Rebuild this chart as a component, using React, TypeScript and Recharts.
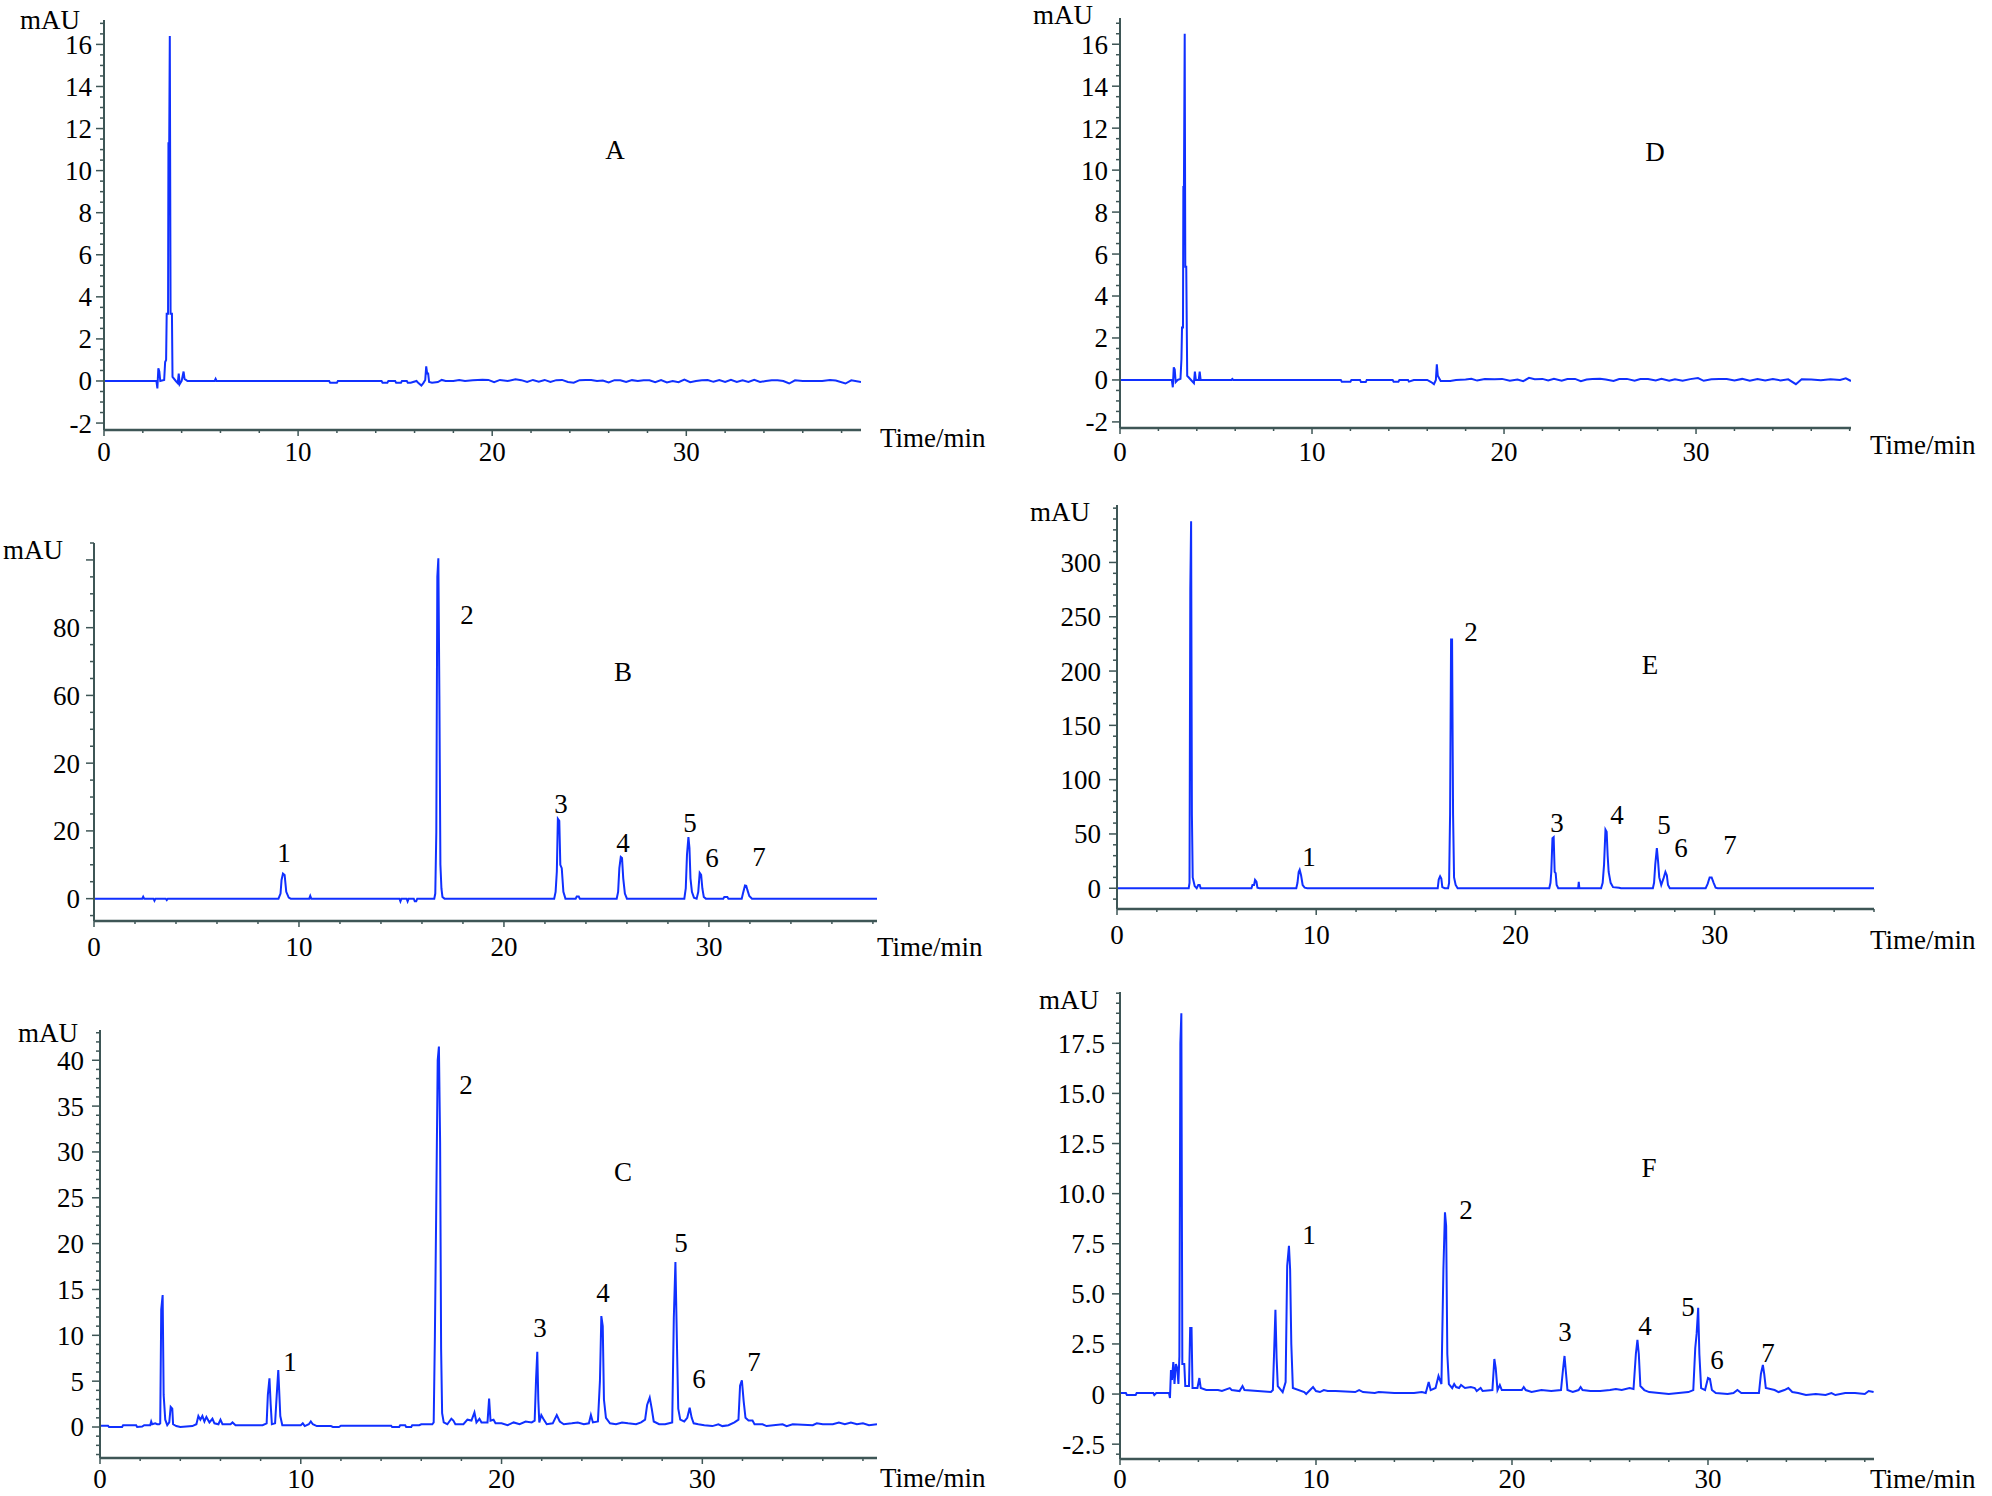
import React from 'react';
import { LineChart, Line, XAxis, YAxis } from 'recharts';

type Pt = [number, number];

// ---------- DATA (time/min, mAU) ----------
const seriesA: Pt[] = [
  [0, 0], [2.7, 0], [2.75, -0.35], [2.8, 0.6], [2.85, 0.45], [2.9, 0], [3.1, 0.05], [3.15, 0.9], [3.2, 1.0],
  [3.23, 3.2], [3.3, 3.2], [3.32, 11.3], [3.36, 11.3], [3.39, 16.4], [3.43, 3.2], [3.5, 3.2], [3.53, 0.2],
  [3.7, 0], [3.8, -0.1], [3.85, 0.35], [3.9, -0.15], [4.0, 0], [4.1, 0.45], [4.15, 0.1], [4.3, 0],
  [5.7, 0], [5.75, 0.1], [5.8, 0], [11.6, 0], [11.65, -0.08], [12.0, -0.08], [12.05, 0], [14.3, 0],
  [14.35, -0.08], [14.6, -0.08], [14.65, 0], [15.0, 0], [15.05, -0.08], [15.3, -0.08], [15.35, 0],
  [15.6, 0], [15.65, -0.08], [15.8, -0.08], [16.1, 0], [16.2, -0.1], [16.35, -0.22], [16.45, -0.1],
  [16.55, 0.05], [16.6, 0.7], [16.65, 0.35], [16.7, 0.35], [16.75, -0.05], [16.9, -0.08], [17.2, -0.05],
  [17.4, 0.05], [17.6, 0], [18.0, 0], [18.3, 0.05], [18.6, 0], [19.0, 0.03], [19.5, 0.06], [19.8, 0.05],
  [20.1, -0.06], [20.4, 0.05], [20.8, 0], [21.2, 0.08], [21.5, 0.04], [21.8, -0.05], [22.1, 0.05],
  [22.4, -0.03], [22.7, 0.05], [23.0, -0.05], [23.3, 0.04], [23.6, 0.05], [23.9, -0.05], [24.2, -0.08],
  [24.5, 0.04], [24.8, 0.05], [25.1, 0.05], [25.4, 0], [25.7, 0.02], [26.0, -0.07], [26.3, 0.04],
  [26.6, 0.03], [26.9, -0.05], [27.2, 0.04], [27.5, 0], [27.8, 0.04], [28.1, 0.03], [28.4, -0.06],
  [28.7, 0.04], [29.0, -0.07], [29.3, 0], [29.6, -0.06], [29.9, 0.07], [30.2, -0.06], [30.5, 0],
  [30.8, 0.04], [31.1, 0.05], [31.4, -0.04], [31.7, 0.04], [32.0, -0.05], [32.3, 0.05], [32.6, -0.05],
  [32.9, 0.03], [33.2, -0.05], [33.5, 0.05], [33.8, -0.05], [34.1, 0], [34.4, 0.04], [34.7, 0.03],
  [35.0, 0], [35.3, -0.12], [35.6, 0.03], [36.0, 0], [36.5, 0], [37.0, 0], [37.4, 0.05], [37.7, 0.02],
  [38.2, -0.12], [38.5, 0.03], [39.0, -0.05],
];

const seriesD: Pt[] = [
  [0, 0], [2.7, 0], [2.75, -0.35], [2.8, 0.6], [2.85, 0.5], [2.9, -0.1], [3.0, 0], [3.15, 0.05], [3.2, 1.0],
  [3.23, 2.5], [3.28, 2.5], [3.3, 9.2], [3.33, 9.2], [3.37, 16.5], [3.4, 5.4], [3.45, 5.4], [3.5, 0.2],
  [3.7, 0], [3.85, -0.15], [3.9, 0.4], [3.95, 0], [4.1, 0], [4.15, 0.4], [4.2, 0], [5.8, 0], [5.85, 0.05],
  [5.9, 0], [11.5, 0], [11.55, -0.08], [12.0, -0.08], [12.05, 0], [12.5, 0], [12.55, -0.1], [12.8, -0.1],
  [12.85, 0], [14.2, 0], [14.25, -0.08], [14.5, -0.08], [14.55, 0], [15.0, 0], [15.05, -0.08], [15.3, 0],
  [16.0, 0], [16.2, -0.1], [16.35, -0.2], [16.45, 0], [16.5, 0.75], [16.55, 0.2], [16.7, -0.05],
  [17.2, -0.05], [17.5, 0], [18.0, 0.02], [18.3, 0.06], [18.6, -0.03], [19.0, 0.05], [19.5, 0.03],
  [19.9, 0.05], [20.3, -0.04], [20.7, 0.02], [21.0, -0.06], [21.3, 0.1], [21.6, 0.03], [22.0, 0.05],
  [22.3, -0.03], [22.6, 0.05], [23.0, -0.04], [23.3, 0.04], [23.7, 0.05], [24.0, -0.06], [24.3, 0.02],
  [24.6, 0.04], [25.0, 0.06], [25.3, 0.02], [25.7, -0.05], [26.0, 0.04], [26.4, 0.05], [26.8, -0.04],
  [27.1, 0.04], [27.5, 0.05], [27.9, -0.03], [28.2, 0.05], [28.6, -0.04], [28.9, 0.03], [29.3, -0.04],
  [29.7, 0.04], [30.1, 0.09], [30.4, -0.04], [30.8, 0.03], [31.2, 0.05], [31.6, 0.04], [32.0, -0.03],
  [32.4, 0.05], [32.8, -0.04], [33.2, 0.04], [33.6, -0.03], [34.0, 0.04], [34.4, -0.02], [34.8, 0.03],
  [35.2, -0.2], [35.5, 0.03], [36.0, 0.02], [36.5, -0.02], [37.0, 0.03], [37.5, 0], [37.8, 0.08], [38.07, -0.05],
];

const seriesB: Pt[] = [
  [0, 0], [2.35, 0], [2.4, 0.6], [2.45, 0], [2.9, 0], [2.95, -0.6], [3.0, 0], [3.5, 0], [3.55, -0.4], [3.6, 0],
  [9.0, 0], [9.1, 1.5], [9.15, 5.5], [9.22, 7.4], [9.3, 7.0], [9.38, 2], [9.5, 0.3], [9.6, 0],
  [10.5, 0], [10.55, 0.8], [10.6, 0], [14.9, 0], [14.95, -0.8], [15.0, 0], [15.25, 0], [15.3, -0.8],
  [15.35, 0], [15.6, 0], [15.65, -0.8], [15.72, -0.8], [15.77, 0], [16.6, 0], [16.65, 1.5], [16.7, 19.5],
  [16.75, 95], [16.8, 100.5], [16.85, 60], [16.9, 10], [16.95, 3], [17.0, 0.5], [17.1, 0],
  [22.45, 0], [22.52, 2], [22.58, 8], [22.63, 23.6], [22.7, 23], [22.75, 10], [22.82, 9], [22.9, 2], [23.0, 0],
  [23.5, 0], [23.55, 0.6], [23.65, 0.6], [23.7, 0], [25.5, 0], [25.57, 2], [25.63, 9], [25.7, 12.3],
  [25.76, 12], [25.82, 6], [25.9, 1.5], [26.0, 0], [28.8, 0], [28.87, 3], [28.93, 13], [29.0, 18.2],
  [29.05, 15], [29.1, 6], [29.17, 2], [29.27, 0.3], [29.4, 0], [29.48, 2], [29.55, 7.6], [29.62, 7],
  [29.68, 3], [29.75, 0.5], [29.85, 0], [30.7, 0], [30.75, 0.5], [30.9, 0.5], [30.95, 0], [31.6, 0],
  [31.66, 1.5], [31.76, 3.9], [31.82, 3.8], [31.88, 2.5], [31.97, 0.8], [32.1, 0], [38.2, 0],
];

const seriesE: Pt[] = [
  [0, 0], [3.6, 0], [3.64, 5], [3.68, 276], [3.72, 338], [3.76, 67.5], [3.8, 10], [3.9, 2], [4.0, 0],
  [4.08, 3], [4.15, 3], [4.2, 0], [6.75, 0], [6.8, 3], [6.88, 3], [6.93, 7.7], [7.0, 6], [7.05, 0.5],
  [7.15, 0], [9.0, 0], [9.06, 5], [9.12, 15], [9.17, 17], [9.24, 12], [9.32, 3], [9.42, 0.5], [9.55, 0],
  [16.1, 0], [16.15, 8], [16.22, 11], [16.28, 9], [16.33, 1], [16.45, 0], [16.62, 0], [16.67, 5],
  [16.72, 68], [16.77, 229], [16.82, 229], [16.87, 68], [16.92, 10], [17.0, 3], [17.1, 0],
  [21.7, 0], [21.76, 5], [21.8, 15], [21.86, 46], [21.92, 47], [21.97, 15], [22.02, 14], [22.07, 3], [22.15, 0],
  [23.15, 0], [23.18, 6], [23.21, 0], [24.3, 0], [24.38, 5], [24.45, 22], [24.52, 54], [24.58, 52],
  [24.63, 30], [24.68, 15], [24.78, 5], [24.9, 1], [25.2, 0.5], [25.3, 0], [26.9, 0], [26.96, 5],
  [27.02, 22], [27.1, 37], [27.16, 25], [27.22, 10], [27.32, 3], [27.45, 10], [27.53, 15], [27.6, 12],
  [27.66, 3], [27.75, 0], [29.55, 0], [29.65, 4], [29.75, 10], [29.85, 10], [29.95, 5], [30.05, 0.5],
  [30.15, 0], [38.0, 0],
];

const seriesC: Pt[] = [
  [0, 0.15], [0.4, 0.15], [0.45, 0.0], [1.1, 0.0], [1.15, 0.2], [1.8, 0.2], [1.85, 0.0], [2.1, 0.05],
  [2.2, 0.2], [2.5, 0.2], [2.55, 0.6], [2.6, 0.3], [2.75, 0.4], [2.85, 0.3], [2.95, 0.3], [3.0, 0.4],
  [3.05, 12.8], [3.12, 14.4], [3.17, 3.5], [3.25, 0.8], [3.35, 0.2], [3.45, 0.5], [3.52, 2.2], [3.6, 2.0],
  [3.64, 0.3], [3.8, 0.1], [4.0, 0.0], [4.6, 0.1], [4.8, 0.3], [4.9, 1.2], [5.0, 0.8], [5.1, 1.2],
  [5.2, 0.6], [5.3, 1.1], [5.45, 0.5], [5.6, 0.9], [5.7, 0.4], [5.9, 0.3], [6.0, 0.8], [6.1, 0.3],
  [6.5, 0.3], [6.6, 0.5], [6.75, 0.2], [8.1, 0.2], [8.3, 0.4], [8.36, 3.5], [8.44, 5.3], [8.5, 2.5],
  [8.56, 0.3], [8.72, 0.4], [8.8, 3.4], [8.88, 6.2], [8.93, 3.7], [8.98, 1.2], [9.08, 0.2], [10.0, 0.2],
  [10.1, 0.4], [10.2, 0.1], [10.4, 0.3], [10.5, 0.6], [10.6, 0.3], [10.8, 0.1], [11.5, 0.1], [11.6, 0],
  [11.9, 0], [12.0, 0.15], [13.0, 0.15], [14.5, 0.15], [14.55, 0.0], [14.9, 0.0], [14.95, 0.2],
  [15.2, 0.2], [15.25, 0.0], [15.5, 0.0], [15.55, 0.2], [15.9, 0.2], [16.0, 0.3], [16.55, 0.3],
  [16.62, 0.5], [16.68, 9.9], [16.74, 22.5], [16.82, 40], [16.88, 41.5], [16.94, 31], [16.99, 8.5],
  [17.04, 1.5], [17.12, 0.5], [17.3, 0.3], [17.5, 0.9], [17.6, 0.7], [17.7, 0.3], [18.1, 0.3], [18.3, 0.8],
  [18.5, 0.7], [18.65, 1.6], [18.75, 0.5], [18.9, 0.9], [19.0, 0.5], [19.3, 0.5], [19.38, 3.1],
  [19.45, 0.7], [19.6, 0.8], [19.7, 0.4], [20.0, 0.4], [20.3, 0.2], [20.6, 0.5], [20.9, 0.3], [21.2, 0.6],
  [21.5, 0.5], [21.65, 0.7], [21.72, 5.3], [21.78, 8.2], [21.83, 3], [21.88, 0.5], [21.98, 1.3],
  [22.08, 0.9], [22.25, 0.3], [22.55, 0.4], [22.75, 1.3], [22.9, 0.6], [23.1, 0.3], [23.5, 0.4],
  [23.8, 0.5], [24.1, 0.3], [24.35, 0.4], [24.45, 1.3], [24.55, 0.5], [24.8, 0.6], [24.9, 5],
  [24.97, 12.1], [25.04, 11], [25.1, 3], [25.2, 1], [25.4, 0.4], [25.7, 0.3], [26.0, 0.5], [26.3, 0.4],
  [26.7, 0.3], [26.95, 0.5], [27.15, 0.8], [27.25, 2.4], [27.38, 3.2], [27.48, 2.0], [27.58, 0.6],
  [27.85, 0.3], [28.15, 0.3], [28.5, 0.5], [28.58, 11.9], [28.66, 18.0], [28.74, 8.6], [28.8, 2],
  [28.9, 0.8], [29.1, 0.6], [29.25, 1.0], [29.37, 2.1], [29.47, 1.0], [29.57, 0.4], [29.8, 0.3],
  [30.1, 0.2], [30.5, 0.1], [30.8, 0.3], [31.0, 0.1], [31.3, 0.2], [31.6, 0.5], [31.8, 0.8], [31.88, 4.5],
  [31.97, 5.1], [32.06, 2.8], [32.15, 1.0], [32.3, 0.7], [32.5, 0.7], [32.6, 0.3], [33.0, 0.3],
  [33.2, 0.1], [34.0, 0.3], [34.2, 0.1], [34.5, 0.3], [35.5, 0.2], [35.7, 0.4], [36.0, 0.3], [36.5, 0.3],
  [36.8, 0.5], [37.1, 0.3], [37.4, 0.5], [37.7, 0.3], [38.0, 0.4], [38.3, 0.2], [38.7, 0.3],
];

const seriesF: Pt[] = [
  [0, 0.05], [0.3, 0.05], [0.35, -0.05], [0.8, -0.05], [0.85, 0.05], [1.7, 0.05], [1.75, -0.05],
  [1.85, 0.05], [2.5, 0.05], [2.55, -0.2], [2.6, 1.2], [2.65, 0.7], [2.72, 1.6], [2.78, 0.5], [2.85, 1.5],
  [2.92, 1.3], [2.98, 0.5], [3.03, 1.9], [3.08, 17.5], [3.13, 19.0], [3.18, 1.5], [3.28, 1.5], [3.33, 0.4],
  [3.52, 0.4], [3.58, 3.3], [3.65, 3.3], [3.7, 0.3], [3.95, 0.3], [4.05, 0.8], [4.12, 0.3], [4.4, 0.2],
  [5.0, 0.2], [5.2, 0.15], [5.6, 0.3], [5.7, 0.2], [6.1, 0.15], [6.25, 0.4], [6.35, 0.2], [7.7, 0.1],
  [7.8, 0.2], [7.86, 2.0], [7.93, 4.2], [7.99, 1.8], [8.05, 0.4], [8.3, 0.1], [8.45, 0.6], [8.53, 6.4],
  [8.62, 7.4], [8.68, 6.2], [8.74, 2.5], [8.82, 0.3], [9.4, 0.1], [9.5, 0], [9.7, 0.2], [9.85, 0.35],
  [10.0, 0.15], [10.2, 0.1], [10.4, 0.2], [10.6, 0.15], [11.0, 0.15], [12.0, 0.1], [12.2, 0.2],
  [12.4, 0.1], [13.0, 0.05], [13.2, 0.1], [14.0, 0.05], [14.3, 0.05], [15.0, 0.05], [15.4, 0.1],
  [15.6, 0.05], [15.75, 0.6], [15.85, 0.2], [16.1, 0.3], [16.25, 0.9], [16.4, 0.5], [16.5, 6.2],
  [16.58, 9.07], [16.64, 8.4], [16.7, 2], [16.78, 0.5], [16.95, 0.3], [17.05, 0.5], [17.15, 0.35],
  [17.3, 0.3], [17.4, 0.45], [17.6, 0.3], [17.9, 0.35], [18.1, 0.3], [18.2, 0.15], [18.4, 0.3],
  [18.5, 0.15], [19.0, 0.2], [19.1, 1.75], [19.17, 1.3], [19.26, 0.2], [19.38, 0.45], [19.48, 0.2],
  [20.0, 0.2], [20.5, 0.2], [20.6, 0.35], [20.7, 0.2], [21.0, 0.1], [21.5, 0.2], [22.0, 0.15],
  [22.5, 0.2], [22.6, 1.2], [22.68, 1.9], [22.75, 1.1], [22.83, 0.2], [23.1, 0.1], [23.4, 0.2],
  [23.5, 0.35], [23.6, 0.2], [24.0, 0.15], [24.5, 0.15], [25.0, 0.2], [25.3, 0.25], [25.6, 0.2],
  [26.0, 0.3], [26.2, 0.25], [26.32, 2.0], [26.4, 2.7], [26.47, 2.0], [26.55, 0.4], [26.75, 0.2],
  [27.0, 0.1], [27.5, 0.05], [28.0, 0], [28.5, 0.05], [29.0, 0.1], [29.25, 0.2], [29.35, 2.3],
  [29.42, 3.0], [29.5, 4.3], [29.56, 2], [29.65, 0.3], [29.85, 0.2], [30.0, 0.8], [30.1, 0.75],
  [30.2, 0.2], [30.4, 0.05], [31.0, 0.0], [31.3, 0.05], [31.5, 0.2], [31.7, 0.05], [32.0, 0.05],
  [32.6, 0.05], [32.7, 1.0], [32.8, 1.45], [32.87, 1.0], [32.95, 0.3], [33.4, 0.2], [33.6, 0.1],
  [33.9, 0.2], [34.1, 0.3], [34.3, 0.1], [34.6, 0.05], [35.0, -0.05], [35.5, 0], [36.0, -0.05],
  [36.3, 0.05], [36.5, -0.05], [37.0, 0.05], [37.5, 0.05], [38.0, 0], [38.2, 0.15], [38.45, 0.1],
];

// tick labels
const timeLabels = [0, 10, 20, 30];
const timeTickValues = [0, 2, 4, 6, 8, 10, 12, 14, 16, 18, 20, 22, 24, 26, 28, 30, 32, 34, 36, 38];
const yMajorA = [-2, 0, 2, 4, 6, 8, 10, 12, 14, 16];
const yLabelA = ['-2', '0', '2', '4', '6', '8', '10', '12', '14', '16'];
const yMajorB = [0, 20, 40, 60, 80, 100];
const yLabelB = ['0', '20', '20', '60', '80', ''];
const yMajorC = [0, 5, 10, 15, 20, 25, 30, 35, 40];
const yLabelC = ['0', '5', '10', '15', '20', '25', '30', '35', '40'];
const yMajorE = [0, 50, 100, 150, 200, 250, 300];
const yLabelE = ['0', '50', '100', '150', '200', '250', '300'];
const yMajorF = [-2.5, 0, 2.5, 5, 7.5, 10, 12.5, 15, 17.5];
const yLabelF = ['-2.5', '0', '2.5', '5.0', '7.5', '10.0', '12.5', '15.0', '17.5'];
const peakNames = ['1', '2', '3', '4', '5', '6', '7'];
const panelLetters = ['A', 'B', 'C', 'D', 'E', 'F'];

// ---------- STYLE / LAYOUT ----------
const FONT = '"Liberation Serif", "Times New Roman", serif';
const FS = 27;
const AX = '#3e5656';
const BLUE = '#1030ff';

const steps = (from: number, to: number, step: number) => {
  const out: number[] = [];
  const n = Math.round((to - from) / step);
  for (let i = 0; i <= n; i++) out.push(Math.round((from + i * step) * 1000) / 1000);
  return out;
};

type Panel = {
  series: Pt[];
  left: number; right: number; top: number; bottom: number;
  xMax: number; yMin: number; yMax: number;
  minor: number[]; major: number[]; labels: string[]; gap: number; xLabelOff: number;
  letter: string; letterPos: [number, number];
  mau: [number, number]; title: [number, number];
  peaks: [number, number][];
};

const panels: Panel[] = [
  {
    series: seriesA, left: 104, right: 861, top: 20, bottom: 430, xMax: 39.0, yMin: -2.33, yMax: 17.16,
    minor: steps(-2, 17, 0.5), major: yMajorA, labels: yLabelA, gap: 12, xLabelOff: 22,
    letter: panelLetters[0], letterPos: [615, 150], mau: [50, 20], title: [880, 438], peaks: [],
  },
  {
    series: seriesB, left: 94, right: 877, top: 543, bottom: 921, xMax: 38.2, yMin: -6.6, yMax: 105.0,
    minor: steps(-5, 105, 5), major: yMajorB, labels: yLabelB, gap: 14, xLabelOff: 26,
    letter: panelLetters[1], letterPos: [623, 672], mau: [33, 550], title: [877, 947],
    peaks: [[284, 853], [467, 615], [561, 804], [623, 843], [690, 823], [712, 858], [759, 857]],
  },
  {
    series: seriesC, left: 100, right: 877, top: 1030, bottom: 1458, xMax: 38.7, yMin: -3.38, yMax: 43.3,
    minor: steps(-3, 43, 1), major: yMajorC, labels: yLabelC, gap: 16, xLabelOff: 21,
    letter: panelLetters[2], letterPos: [623, 1172], mau: [48, 1033], title: [880, 1478],
    peaks: [[290, 1362], [466, 1085], [540, 1328], [603, 1293], [681, 1243], [699, 1379], [754, 1362]],
  },
  {
    series: seriesD, left: 1120, right: 1851, top: 18, bottom: 428, xMax: 38.07, yMin: -2.29, yMax: 17.25,
    minor: steps(-2, 17, 0.5), major: yMajorA, labels: yLabelA, gap: 12, xLabelOff: 24,
    letter: panelLetters[3], letterPos: [1655, 152], mau: [1063, 15], title: [1870, 445], peaks: [],
  },
  {
    series: seriesE, left: 1117, right: 1874, top: 505, bottom: 909, xMax: 38.0, yMin: -19.1, yMax: 352.9,
    minor: steps(-10, 350, 10), major: yMajorE, labels: yLabelE, gap: 16, xLabelOff: 26,
    letter: panelLetters[4], letterPos: [1650, 665], mau: [1060, 512], title: [1870, 940],
    peaks: [[1309, 857], [1471, 632], [1557, 823], [1617, 815], [1664, 825], [1681, 848], [1730, 845]],
  },
  {
    series: seriesF, left: 1120, right: 1874, top: 992, bottom: 1459, xMax: 38.47, yMin: -3.24, yMax: 20.06,
    minor: steps(-3, 20, 0.5), major: yMajorF, labels: yLabelF, gap: 15, xLabelOff: 20,
    letter: panelLetters[5], letterPos: [1649, 1168], mau: [1069, 1000], title: [1870, 1479],
    peaks: [[1309, 1235], [1466, 1210], [1565, 1332], [1645, 1326], [1688, 1307], [1717, 1360], [1768, 1353]],
  },
];

const textStyle = (x: number, y: number, center = true): React.CSSProperties => ({
  position: 'absolute',
  left: x,
  top: y,
  transform: center ? 'translate(-50%, -50%)' : 'translate(0, -50%)',
  fontFamily: FONT,
  fontSize: FS,
  lineHeight: 1,
  color: '#000',
  whiteSpace: 'nowrap',
});

const makeYTick = (p: Panel) => (props: any) => {
  const { x, y, payload } = props;
  const v = Math.round(payload.value * 1000) / 1000;
  const idx = p.major.indexOf(v);
  const isMajor = idx >= 0;
  return (
    <g>
      <line x1={x - (isMajor ? 8 : 4)} x2={x} y1={y} y2={y} stroke={AX} strokeWidth={1.5} />
      {isMajor && p.labels[idx] !== '' && (
        <text x={x - p.gap} y={y} dy="0.35em" textAnchor="end" fontFamily={FONT} fontSize={FS} fill="#000">
          {p.labels[idx]}
        </text>
      )}
    </g>
  );
};

const makeXTick = (p: Panel) => (props: any) => {
  const { x, y, payload } = props;
  const v = payload.value;
  const isMajor = timeLabels.indexOf(v) >= 0;
  return (
    <g>
      <line x1={x} x2={x} y1={y} y2={y + (isMajor ? 6 : 3)} stroke={AX} strokeWidth={1.5} />
      {isMajor && (
        <text x={x} y={y + p.xLabelOff} dy="0.35em" textAnchor="middle" fontFamily={FONT} fontSize={FS} fill="#000">
          {String(v)}
        </text>
      )}
    </g>
  );
};

const PanelChart = ({ p }: { p: Panel }) => {
  const data = p.series.map(([t, v]) => ({ t, v }));
  const yW = 70;
  const xH = 40;
  const width = p.right - p.left + yW + 10;
  const height = p.bottom - p.top + 10 + xH;
  return (
    <div style={{ position: 'absolute', left: p.left - yW, top: p.top - 10 }}>
      <LineChart width={width} height={height} data={data} margin={{ top: 10, right: 10, left: 0, bottom: 0 }}>
        <XAxis
          type="number"
          dataKey="t"
          domain={[0, p.xMax]}
          allowDataOverflow
          ticks={timeTickValues.filter((t) => t <= p.xMax)}
          interval={0}
          height={xH}
          tickSize={0}
          tickMargin={0}
          tickLine={false}
          axisLine={{ stroke: AX, strokeWidth: 2.5 }}
          tick={makeXTick(p)}
        />
        <YAxis
          type="number"
          domain={[p.yMin, p.yMax]}
          allowDataOverflow
          ticks={p.minor}
          interval={0}
          width={yW}
          tickSize={0}
          tickMargin={0}
          tickLine={false}
          axisLine={{ stroke: AX, strokeWidth: 2 }}
          tick={makeYTick(p)}
        />
        <Line
          type="linear"
          dataKey="v"
          stroke={BLUE}
          strokeWidth={2}
          dot={false}
          isAnimationActive={false}
        />
      </LineChart>
    </div>
  );
};

export default function App() {
  return (
    <div style={{ position: 'absolute', left: 0, top: 0, width: 1992, height: 1496, background: '#fff', overflow: 'hidden' }}>
      {panels.map((p, i) => (
        <PanelChart key={i} p={p} />
      ))}
      {panels.map((p, i) => (
        <React.Fragment key={'t' + i}>
          <div style={textStyle(p.mau[0], p.mau[1])}>mAU</div>
          <div style={textStyle(p.title[0], p.title[1], false)}>Time/min</div>
          <div style={textStyle(p.letterPos[0], p.letterPos[1])}>{p.letter}</div>
          {p.peaks.map((pk, j) => (
            <div key={j} style={textStyle(pk[0], pk[1])}>{peakNames[j]}</div>
          ))}
        </React.Fragment>
      ))}
    </div>
  );
}
